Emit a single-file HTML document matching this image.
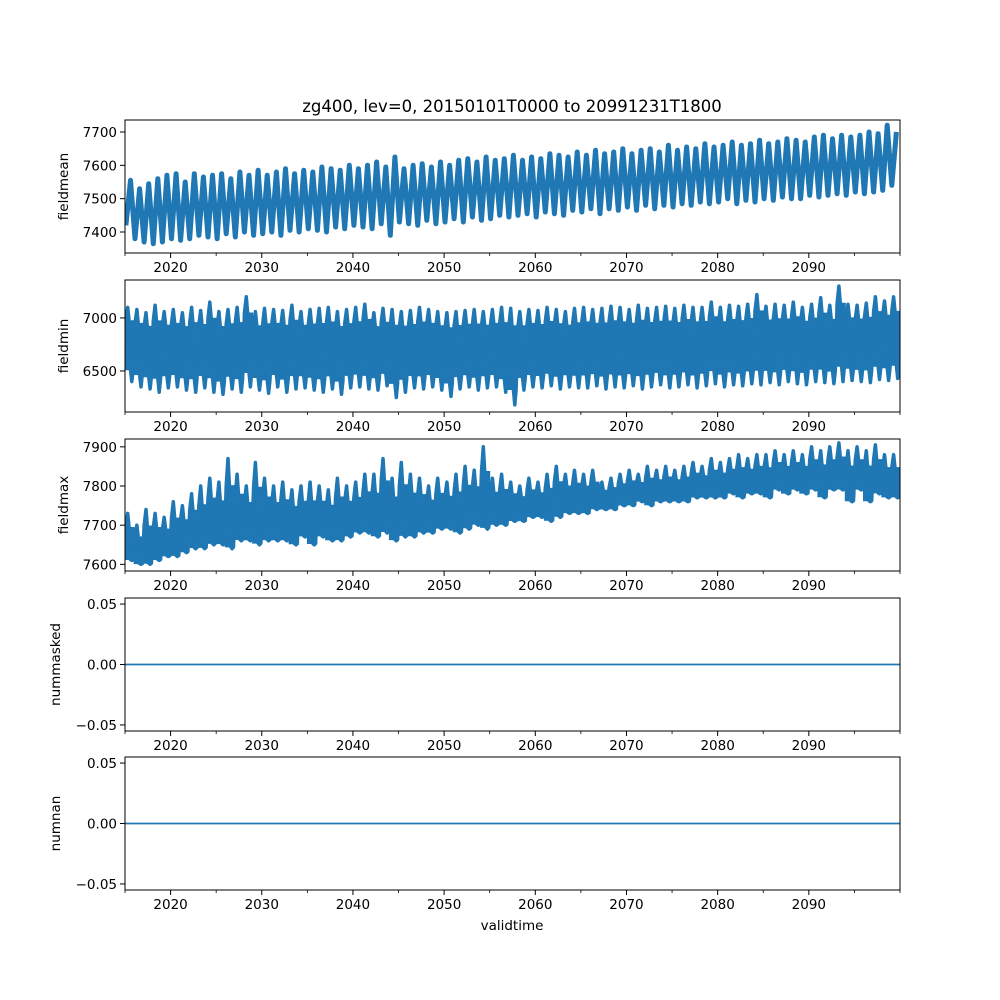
<!DOCTYPE html>
<html><head><meta charset="utf-8">
<style>
html,body{margin:0;padding:0;background:#fff;}
svg{display:block;font-family:"DejaVu Sans","Liberation Sans",sans-serif;}
</style></head>
<body>
<svg id="fig" width="1000" height="1000" viewBox="0 0 1000 1000">
<text x="512" y="112" font-size="16.5" text-anchor="middle">zg400, lev=0, 20150101T0000 to 20991231T1800</text>
<text x="512" y="930" font-size="13.5" text-anchor="middle">validtime</text>
</svg>
<script>
const years = [];
for (let y = 2015; y <= 2099; y++) years.push(y);
const xTicks = [2020,2030,2040,2050,2060,2070,2080,2090];
const xMinorTicks = [2015,2025,2035,2045,2055,2065,2075,2085,2095,2100];

const meanHi = [7555,7530,7545,7560,7570,7575,7550,7575,7565,7570,
7575,7560,7580,7570,7585,7570,7580,7590,7575,7585,
7580,7595,7590,7585,7600,7590,7600,7610,7595,7625,
7590,7600,7605,7595,7610,7600,7615,7620,7610,7625,
7615,7620,7630,7615,7625,7620,7635,7630,7625,7640,
7630,7645,7635,7640,7650,7635,7645,7650,7640,7660,
7645,7655,7650,7665,7655,7660,7670,7660,7665,7675,
7665,7670,7680,7675,7670,7685,7690,7680,7690,7685,
7690,7700,7695,7720,7700];
const meanLo = [7420,7380,7370,7365,7370,7380,7375,7380,7390,7385,
7380,7395,7385,7400,7390,7395,7400,7390,7405,7400,
7410,7405,7400,7415,7410,7420,7415,7410,7425,7390,
7430,7425,7420,7435,7425,7430,7440,7430,7445,7435,
7440,7450,7445,7450,7455,7445,7460,7455,7450,7465,
7460,7470,7455,7470,7465,7475,7465,7480,7470,7480,
7475,7485,7480,7490,7485,7490,7500,7485,7495,7490,
7500,7495,7505,7500,7500,7510,7505,7510,7515,7510,
7520,7515,7520,7525,7540];
const minHi = [7100,7080,7050,7120,7060,7080,7050,7100,7070,7150,
7060,7080,7100,7200,7060,7090,7080,7070,7120,7060,
7080,7090,7100,7060,7080,7100,7130,7050,7090,7080,
7060,7070,7100,7080,7060,7050,7060,7070,7080,7060,
7080,7100,7090,7060,7080,7070,7100,7080,7060,7090,
7100,7080,7090,7110,7100,7080,7120,7090,7100,7110,
7090,7120,7100,7100,7150,7100,7120,7110,7130,7220,
7110,7130,7120,7150,7100,7130,7190,7120,7300,7130,
7120,7140,7200,7160,7200];
const minLo = [6400,6350,6330,6300,6340,6350,6320,6300,6340,6300,
6280,6330,6300,6350,6320,6290,6350,6300,6330,6340,
6320,6300,6330,6280,6340,6350,6330,6320,6360,6250,
6300,6340,6330,6350,6320,6260,6330,6350,6320,6340,
6350,6300,6180,6320,6350,6340,6360,6330,6350,6340,
6340,6360,6330,6350,6340,6360,6330,6350,6370,6340,
6350,6370,6340,6360,6380,6350,6370,6360,6380,6370,
6390,6370,6400,6380,6370,6400,6390,6380,6400,6410,
6400,6390,6420,6410,6430];
const maxHi = [7730,7700,7740,7730,7720,7760,7750,7780,7800,7820,
7810,7870,7830,7800,7860,7820,7800,7810,7790,7800,
7810,7800,7790,7820,7800,7810,7830,7830,7870,7820,
7860,7830,7820,7800,7820,7810,7830,7850,7840,7900,
7820,7830,7810,7800,7820,7810,7830,7850,7830,7840,
7830,7840,7810,7820,7830,7840,7830,7850,7840,7850,
7840,7850,7860,7850,7870,7860,7870,7880,7870,7880,
7880,7890,7880,7890,7880,7900,7890,7900,7910,7890,
7900,7890,7905,7880,7880];
const maxLo = [7610,7600,7600,7610,7620,7620,7630,7640,7640,7650,
7650,7640,7660,7660,7650,7660,7660,7660,7650,7670,
7650,7670,7660,7660,7670,7680,7680,7670,7680,7660,
7670,7670,7680,7680,7690,7690,7680,7690,7700,7690,
7700,7700,7710,7710,7720,7720,7710,7720,7730,7730,
7730,7740,7740,7740,7750,7750,7760,7750,7760,7760,
7760,7760,7770,7770,7770,7770,7780,7770,7780,7780,
7770,7790,7780,7790,7780,7790,7770,7790,7790,7760,
7790,7760,7780,7770,7770];

const yTicks1 = [7400,7500,7600,7700];
const yTicks2 = [6500,7000];
const yTicks3 = [7600,7700,7800,7900];
const yTicksZero = [-0.05,0.00,0.05];

const NS = "http://www.w3.org/2000/svg";
const svg = document.getElementById('fig');
const L = 125, R = 900, C = '#1f77b4';
const xs = v => L + (v - 2015) / 85 * (R - L);

function mk(tag, attrs, parent) {
  const e = document.createElementNS(NS, tag);
  for (const k in attrs) e.setAttribute(k, attrs[k]);
  (parent || svg).appendChild(e);
  return e;
}

const panels = [
  {name:'fieldmean', top:120, bot:253, ymin:7337, ymax:7736, ticks:yTicks1, fmt:v=>String(v), lx:68},
  {name:'fieldmin', top:280, bot:412, ymin:6113, ymax:7358, ticks:yTicks2, fmt:v=>String(v), lx:68},
  {name:'fieldmax', top:439, bot:571, ymin:7583, ymax:7920, ticks:yTicks3, fmt:v=>String(v), lx:68},
  {name:'nummasked', top:598, bot:731, ymin:-0.055, ymax:0.055, ticks:yTicksZero, fmt:v=>v.toFixed(2).replace('-','\u2212'), lx:60},
  {name:'numnan', top:757, bot:890, ymin:-0.055, ymax:0.055, ticks:yTicksZero, fmt:v=>v.toFixed(2).replace('-','\u2212'), lx:60}
];

panels.forEach((p, pi) => {
  const g = mk('g', {});
  
  
  const ys = v => p.bot - (v - p.ymin) / (p.ymax - p.ymin) * (p.bot - p.top);
  const clipId = 'clip' + pi;
  const cp = mk('clipPath', {id: clipId}, g);
  mk('rect', {x:L, y:p.top, width:R-L, height:p.bot-p.top}, cp);
  const dg = mk('g', {'clip-path':'url(#'+clipId+')'}, g);
  
  

  if (pi === 0) {
    let pts = [];
    years.forEach((y, i) => {
      pts.push(xs(y + 0.1).toFixed(1) + ',' + ys(meanLo[i]).toFixed(1));
      pts.push(xs(y + 0.6).toFixed(1) + ',' + ys(meanHi[i]).toFixed(1));
    });
    const pl = mk('polyline', {points: pts.join(' '), fill:'none', stroke:C, 'stroke-width':5, 'stroke-linejoin':'round'}, dg);
    
    
  } else if (pi === 1 || pi === 2) {
    const hi = pi === 1 ? minHi : maxHi;
    const lo = pi === 1 ? minLo : maxLo;
    const fa = pi === 1 ? 0.16 : 0.02;
    const fb = pi === 1 ? 0.18 : 0.3;
    const inHi = hi.map((h, i) => h - fb * (h - lo[i]));
    const inLo = lo.map((l, i) => l + fa * (hi[i] - l));
    let up = [], dn = [];
    years.forEach((y, i) => {
      up.push(xs(y).toFixed(1) + ',' + ys(inHi[i]).toFixed(1));
      up.push(xs(y + 1).toFixed(1) + ',' + ys(inHi[i]).toFixed(1));
      dn.push(xs(y).toFixed(1) + ',' + ys(inLo[i]).toFixed(1));
      dn.push(xs(y + 1).toFixed(1) + ',' + ys(inLo[i]).toFixed(1));
    });
    const band = mk('polygon', {points: up.concat(dn.reverse()).join(' '), fill:C, stroke:C, 'stroke-width':1}, dg);
    
    
    let pts = [];
    years.forEach((y, i) => {
      pts.push(xs(y + 0.1).toFixed(1) + ',' + ys(inHi[i]).toFixed(1));
      pts.push(xs(y + 0.3).toFixed(1) + ',' + ys(hi[i]).toFixed(1));
      pts.push(xs(y + 0.45).toFixed(1) + ',' + ys(inHi[i]).toFixed(1));
      pts.push(xs(y + 0.6).toFixed(1) + ',' + ys(inLo[i]).toFixed(1));
      pts.push(xs(y + 0.75).toFixed(1) + ',' + ys(lo[i]).toFixed(1));
      pts.push(xs(y + 0.9).toFixed(1) + ',' + ys(inLo[i]).toFixed(1));
    });
    const pl = mk('polyline', {points: pts.join(' '), fill:'none', stroke:C, 'stroke-width':3.5, 'stroke-linejoin':'round'}, dg);
    
    
  } else {
    const ln = mk('line', {x1:L, x2:R, y1:ys(0), y2:ys(0), stroke:C, 'stroke-width':1.8}, dg);
    
    
  }

  const fr = mk('rect', {x:L, y:p.top, width:R-L, height:p.bot-p.top, fill:'none', stroke:'#000', 'stroke-width':1}, g);
  
  

  xTicks.forEach(t => {
    const x = xs(t);
    mk('line', {x1:x, x2:x, y1:p.bot, y2:p.bot+5, stroke:'#000', 'stroke-width':1}, g);
    const tx = mk('text', {x:x, y:p.bot+19, 'font-size':13.5, 'text-anchor':'middle'}, g);
    tx.textContent = t;
    
    
  });
  xMinorTicks.forEach(t => {
    const x = xs(t);
    mk('line', {x1:x, x2:x, y1:p.bot, y2:p.bot+3, stroke:'#000', 'stroke-width':0.8}, g);
  });
  p.ticks.forEach(t => {
    const y = ys(t);
    mk('line', {x1:L-5, x2:L, y1:y, y2:y, stroke:'#000', 'stroke-width':1}, g);
    const tx = mk('text', {x:L-8, y:y+5, 'font-size':13.5, 'text-anchor':'end'}, g);
    tx.textContent = p.fmt(t);
    
    
  });
  const cy = (p.top + p.bot) / 2;
  const yl = mk('text', {x:p.lx, y:cy, 'font-size':13.5, 'text-anchor':'middle', transform:'rotate(-90 '+p.lx+' '+cy+')'}, g);
  yl.textContent = p.name;
  
  
});
</script>
</body></html>
